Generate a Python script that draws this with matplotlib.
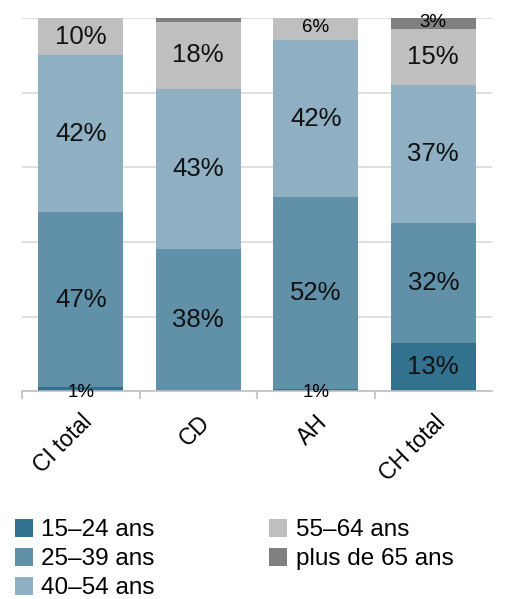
import matplotlib.pyplot as plt
import numpy as np

plt.rcParams['font.family'] = ['Liberation Sans', 'DejaVu Sans']

categories = ['CI total', 'CD', 'AH', 'CH total']
groups = ['15–24 ans', '25–39 ans', '40–54 ans', '55–64 ans', 'plus de 65 ans']
values = {
    '15–24 ans': [1, 0, 0.6, 13],
    '25–39 ans': [47, 38, 51.5, 32],
    '40–54 ans': [42, 43, 41.9, 37],
    '55–64 ans': [10, 18, 6, 15],
    'plus de 65 ans': [0, 1, 0, 3],
}
colors = ['#33728F', '#6190A9', '#8FAFC3', '#BFBFBF', '#808080']

fig = plt.figure(figsize=(5.12, 5.99), dpi=100)
ax = fig.add_axes([0.043, 0.347, 0.918, 0.623])

x = np.arange(len(categories))
bottom = np.zeros(len(categories))
for g, c in zip(groups, colors):
    v = np.array(values[g], dtype=float)
    ax.bar(x, v, 0.72, bottom=bottom, color=c, label=g, zorder=2)
    for i in range(len(x)):
        if v[i] < 2 and g != '15–24 ans':
            continue
        if v[i] < 0.5:
            continue
        txt = '%d%%' % round(v[i])
        if g == '15–24 ans' and v[i] < 2:
            ax.text(x[i], -0.3, txt, ha='center', va='center', fontsize=13.5, zorder=3)
        elif v[i] < 8:
            ax.text(x[i], bottom[i] + v[i] / 2 + 0.4, txt, ha='center', va='center',
                    fontsize=13.5, zorder=3)
        else:
            ax.text(x[i], bottom[i] + v[i] / 2, txt, ha='center', va='center',
                    fontsize=18.5, color='#111111', zorder=3)
    bottom += v

ax.set_xlim(-0.5, 3.5)
ax.set_ylim(0, 100)
ax.set_yticks(np.arange(0, 101, 20))
ax.yaxis.grid(True, color='#D9D9D9', lw=1.2, zorder=0)
ax.tick_params(axis='y', length=0, labelleft=False)
for s in ['left', 'right', 'top']:
    ax.spines[s].set_visible(False)
ax.spines['bottom'].set_color('#BFBFBF')
ax.spines['bottom'].set_linewidth(1.2)

ax.set_xticks(x)
ax.set_xticklabels(categories, rotation=45, ha='right', va='top',
                   rotation_mode='anchor', fontsize=16.5)
ax.tick_params(axis='x', which='major', length=0, pad=14)
ax.set_xticks([-0.5, 0.5, 1.5, 2.5], minor=True)
ax.tick_params(axis='x', which='minor', length=6, color='#BFBFBF', width=1.2)

fig.legend(loc='upper left', bbox_to_anchor=(0.0094, 0.150), ncol=2, frameon=False,
           fontsize=17.5, handlelength=0.75, handleheight=0.75, handletextpad=0.35,
           columnspacing=4.7, labelspacing=0.27, borderaxespad=0)

fig.savefig('out.png', dpi=100)
